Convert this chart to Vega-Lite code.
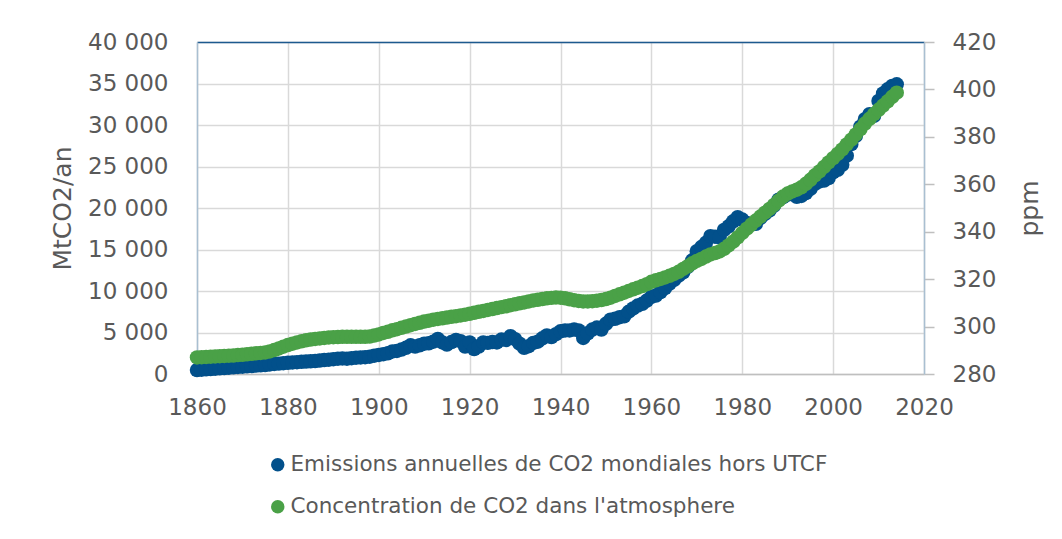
{
  "$schema": "https://vega.github.io/schema/vega-lite/v6.json",
  "autosize": {"type": "none"},
  "width": 727,
  "height": 332,
  "padding": {"left": 197, "top": 42, "right": 138, "bottom": 165},
  "background": "white",
  "config": {
    "font": "DejaVu Sans",
    "view": {"stroke": null},
    "axis": {"labelFont": "DejaVu Sans", "titleFont": "DejaVu Sans", "labelColor": "#595959", "titleColor": "#595959", "labelFontSize": 23, "titleFontSize": 25, "titleFontWeight": "normal", "gridColor": "#d9d9d9", "gridWidth": 1.5, "labelFlush": false, "labelOverlap": false},
    "legend": {"labelFont": "DejaVu Sans", "labelFontSize": 21.5, "labelColor": "#595959", "labelLimit": 0}
  },
  "data": {"values": [
    {"year":1860,"emissions":480,"ppm":287.0},{"year":1861,"emissions":520,"ppm":287.1},{"year":1862,"emissions":560,"ppm":287.2},{"year":1863,"emissions":600,"ppm":287.3},{"year":1864,"emissions":640,"ppm":287.4},
    {"year":1865,"emissions":680,"ppm":287.5},{"year":1866,"emissions":720,"ppm":287.6},{"year":1867,"emissions":760,"ppm":287.7},{"year":1868,"emissions":800,"ppm":287.8},{"year":1869,"emissions":850,"ppm":288.0},
    {"year":1870,"emissions":880,"ppm":288.1},{"year":1871,"emissions":920,"ppm":288.3},{"year":1872,"emissions":970,"ppm":288.5},{"year":1873,"emissions":1010,"ppm":288.7},{"year":1874,"emissions":1040,"ppm":288.9},
    {"year":1875,"emissions":1080,"ppm":289.1},{"year":1876,"emissions":1150,"ppm":289.5},{"year":1877,"emissions":1210,"ppm":290.1},{"year":1878,"emissions":1250,"ppm":290.8},{"year":1879,"emissions":1300,"ppm":291.5},
    {"year":1880,"emissions":1350,"ppm":292.2},{"year":1881,"emissions":1390,"ppm":292.8},{"year":1882,"emissions":1430,"ppm":293.3},{"year":1883,"emissions":1470,"ppm":293.8},{"year":1884,"emissions":1500,"ppm":294.2},
    {"year":1885,"emissions":1530,"ppm":294.5},{"year":1886,"emissions":1566,"ppm":294.8},{"year":1887,"emissions":1620,"ppm":295.0},{"year":1888,"emissions":1680,"ppm":295.2},{"year":1889,"emissions":1720,"ppm":295.4},
    {"year":1890,"emissions":1780,"ppm":295.5},{"year":1891,"emissions":1840,"ppm":295.6},{"year":1892,"emissions":1880,"ppm":295.7},{"year":1893,"emissions":1850,"ppm":295.7},{"year":1894,"emissions":1900,"ppm":295.7},
    {"year":1895,"emissions":1960,"ppm":295.7},{"year":1896,"emissions":1990,"ppm":295.7},{"year":1897,"emissions":2030,"ppm":295.7},{"year":1898,"emissions":2085,"ppm":295.8},{"year":1899,"emissions":2200,"ppm":296.2},
    {"year":1900,"emissions":2300,"ppm":296.7},{"year":1901,"emissions":2380,"ppm":297.3},{"year":1902,"emissions":2490,"ppm":297.8},{"year":1903,"emissions":2720,"ppm":298.4},{"year":1904,"emissions":2780,"ppm":298.9},
    {"year":1905,"emissions":2950,"ppm":299.5},{"year":1906,"emissions":3150,"ppm":300.0},{"year":1907,"emissions":3450,"ppm":300.6},{"year":1908,"emissions":3300,"ppm":301.1},{"year":1909,"emissions":3450,"ppm":301.6},
    {"year":1910,"emissions":3650,"ppm":302.1},{"year":1911,"emissions":3700,"ppm":302.5},{"year":1912,"emissions":3900,"ppm":302.9},{"year":1913,"emissions":4220,"ppm":303.2},{"year":1914,"emissions":3800,"ppm":303.5},
    {"year":1915,"emissions":3550,"ppm":303.8},{"year":1916,"emissions":3850,"ppm":304.1},{"year":1917,"emissions":4100,"ppm":304.4},{"year":1918,"emissions":3950,"ppm":304.7},{"year":1919,"emissions":3300,"ppm":305.0},
    {"year":1920,"emissions":3800,"ppm":305.4},{"year":1921,"emissions":3000,"ppm":305.8},{"year":1922,"emissions":3300,"ppm":306.2},{"year":1923,"emissions":3800,"ppm":306.6},{"year":1924,"emissions":3750,"ppm":307.0},
    {"year":1925,"emissions":3850,"ppm":307.4},{"year":1926,"emissions":3800,"ppm":307.8},{"year":1927,"emissions":4150,"ppm":308.2},{"year":1928,"emissions":4100,"ppm":308.6},{"year":1929,"emissions":4550,"ppm":309.0},
    {"year":1930,"emissions":4200,"ppm":309.4},{"year":1931,"emissions":3650,"ppm":309.8},{"year":1932,"emissions":3150,"ppm":310.2},{"year":1933,"emissions":3350,"ppm":310.6},{"year":1934,"emissions":3750,"ppm":311.0},
    {"year":1935,"emissions":3900,"ppm":311.3},{"year":1936,"emissions":4300,"ppm":311.6},{"year":1937,"emissions":4650,"ppm":311.9},{"year":1938,"emissions":4450,"ppm":312.1},{"year":1939,"emissions":4800,"ppm":312.3},
    {"year":1940,"emissions":5150,"ppm":312.2},{"year":1941,"emissions":5250,"ppm":311.9},{"year":1942,"emissions":5250,"ppm":311.5},{"year":1943,"emissions":5350,"ppm":311.1},{"year":1944,"emissions":5250,"ppm":310.8},
    {"year":1945,"emissions":4350,"ppm":310.6},{"year":1946,"emissions":4900,"ppm":310.6},{"year":1947,"emissions":5350,"ppm":310.7},{"year":1948,"emissions":5600,"ppm":310.9},{"year":1949,"emissions":5350,"ppm":311.2},
    {"year":1950,"emissions":6050,"ppm":311.6},{"year":1951,"emissions":6550,"ppm":312.2},{"year":1952,"emissions":6650,"ppm":312.9},{"year":1953,"emissions":6850,"ppm":313.6},{"year":1954,"emissions":6950,"ppm":314.3},
    {"year":1955,"emissions":7500,"ppm":315.0},{"year":1956,"emissions":7900,"ppm":315.7},{"year":1957,"emissions":8250,"ppm":316.4},{"year":1958,"emissions":8450,"ppm":317.1},{"year":1959,"emissions":8850,"ppm":317.9},
    {"year":1960,"emissions":9300,"ppm":318.9},{"year":1961,"emissions":9450,"ppm":319.5},{"year":1962,"emissions":9850,"ppm":320.1},{"year":1963,"emissions":10350,"ppm":320.7},{"year":1964,"emissions":10900,"ppm":321.4},
    {"year":1965,"emissions":11350,"ppm":322.2},{"year":1966,"emissions":11850,"ppm":323.1},{"year":1967,"emissions":12250,"ppm":324.3},{"year":1968,"emissions":12900,"ppm":325.4},{"year":1969,"emissions":13700,"ppm":326.7},
    {"year":1970,"emissions":14800,"ppm":327.7},{"year":1971,"emissions":15300,"ppm":328.5},{"year":1972,"emissions":15800,"ppm":329.5},{"year":1973,"emissions":16600,"ppm":330.4},{"year":1974,"emissions":16550,"ppm":331.0},
    {"year":1975,"emissions":16450,"ppm":331.7},{"year":1976,"emissions":17350,"ppm":332.8},{"year":1977,"emissions":17800,"ppm":334.2},{"year":1978,"emissions":18400,"ppm":335.8},{"year":1979,"emissions":18900,"ppm":337.6},
    {"year":1980,"emissions":18600,"ppm":339.5},{"year":1981,"emissions":18200,"ppm":341.3},{"year":1982,"emissions":18000,"ppm":343.0},{"year":1983,"emissions":18100,"ppm":344.7},{"year":1984,"emissions":18800,"ppm":346.4},
    {"year":1985,"emissions":19300,"ppm":348.0},{"year":1986,"emissions":19700,"ppm":349.6},{"year":1987,"emissions":20300,"ppm":351.3},{"year":1988,"emissions":21000,"ppm":353.1},{"year":1989,"emissions":21300,"ppm":354.8},
    {"year":1990,"emissions":21600,"ppm":356.1},{"year":1991,"emissions":21800,"ppm":357.0},{"year":1992,"emissions":21350,"ppm":357.7},{"year":1993,"emissions":21450,"ppm":358.7},{"year":1994,"emissions":21800,"ppm":360.2},
    {"year":1995,"emissions":22300,"ppm":361.9},{"year":1996,"emissions":22900,"ppm":363.8},{"year":1997,"emissions":23200,"ppm":365.4},{"year":1998,"emissions":23300,"ppm":367.3},{"year":1999,"emissions":23600,"ppm":369.2},
    {"year":2000,"emissions":24300,"ppm":371.0},{"year":2001,"emissions":24600,"ppm":372.8},{"year":2002,"emissions":25200,"ppm":374.7},{"year":2003,"emissions":26300,"ppm":376.8},{"year":2004,"emissions":27700,"ppm":378.8},
    {"year":2005,"emissions":28700,"ppm":381.0},{"year":2006,"emissions":29800,"ppm":383.3},{"year":2007,"emissions":30700,"ppm":385.6},{"year":2008,"emissions":31300,"ppm":387.6},{"year":2009,"emissions":31100,"ppm":389.6},
    {"year":2010,"emissions":32900,"ppm":391.4},{"year":2011,"emissions":33800,"ppm":393.2},{"year":2012,"emissions":34300,"ppm":395.0},{"year":2013,"emissions":34700,"ppm":396.9},{"year":2014,"emissions":34900,"ppm":398.6}
  ]},
  "encoding": {
    "x": {"field": "year", "type": "quantitative", "scale": {"domain": [1860, 2020], "nice": false, "zero": false}}
  },
  "layer": [
    {
      "mark": {"type": "point", "filled": true, "size": 210, "opacity": 1, "shape": "circle"},
      "encoding": {
        "x": {"field": "year", "type": "quantitative", "axis": {"orient": "bottom", "title": null, "values": [1860,1880,1900,1920,1940,1960,1980,2000,2020], "format": "d", "grid": true, "ticks": false, "tickSize": 0, "labelPadding": 22, "labelFlush": false, "labelOverlap": false, "domainColor": "#bfbfbf", "domainWidth": 1.5}},
        "y": {"field": "emissions", "type": "quantitative", "scale": {"domain": [0, 40000], "nice": false}, "axis": {"title": "MtCO2/an", "values": [0,5000,10000,15000,20000,25000,30000,35000,40000], "labelExpr": "replace(format(datum.value, ','), ',', ' ')", "grid": true, "ticks": false, "tickSize": 0, "labelPadding": 29, "labelFlush": false, "domainColor": "#a9bfd1", "domainWidth": 1.5, "titleAngle": -90, "titleBaseline": "alphabetic", "titleX": -127, "titleY": 166, "titleAlign": "center"}},
        "color": {"datum": "Emissions annuelles de CO2 mondiales hors UTCF", "type": "nominal", "scale": {"domain": ["Emissions annuelles de CO2 mondiales hors UTCF", "Concentration de CO2 dans l'atmosphere"], "range": ["#02508b", "#4aa147"]}, "legend": {"title": null, "orient": "none", "legendX": 70, "legendY": 412, "direction": "vertical", "symbolType": "circle", "symbolSize": 180, "labelOffset": 2, "labelLimit": 0, "rowPadding": 19, "padding": 0}}
      }
    },
    {
      "mark": {"type": "point", "filled": true, "size": 210, "opacity": 1, "shape": "circle"},
      "encoding": {
        "x": {"field": "year", "type": "quantitative", "axis": {"orient": "top", "title": null, "labels": false, "ticks": false, "grid": false, "domainColor": "#1d5a8f", "domainWidth": 1.5}},
        "y": {"field": "ppm", "type": "quantitative", "scale": {"domain": [280, 420], "nice": false, "zero": false}, "axis": {"orient": "right", "title": "ppm", "values": [280,300,320,340,360,380,400,420], "grid": false, "ticks": true, "tickSize": 10, "tickColor": "#bfbfbf", "tickWidth": 1.5, "labelPadding": 18, "labelFlush": false, "domainColor": "#a9bfd1", "domainWidth": 1.5, "titleAngle": -90, "titleBaseline": "alphabetic", "titleX": 113, "titleY": 166, "titleAlign": "center"}},
        "color": {"datum": "Concentration de CO2 dans l'atmosphere", "type": "nominal"}
      }
    }
  ],
  "resolve": {"scale": {"y": "independent"}, "axis": {"x": "independent"}}
}
